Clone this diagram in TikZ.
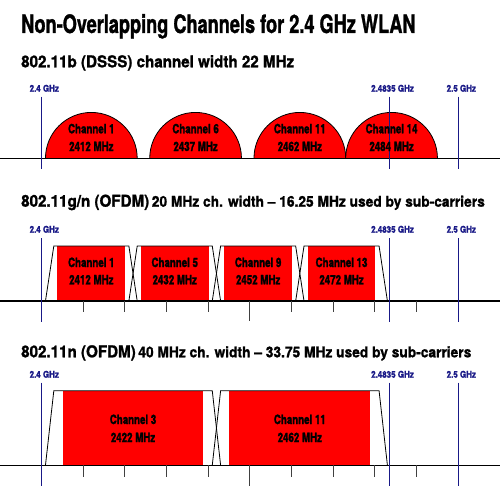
\documentclass[tikz,border=0pt]{standalone}
\usepackage{fontspec}
\newfontfamily\fT[FakeStretch=0.715,FakeBold=1.2]{TeX Gyre Heros}
\newfontfamily\fS[FakeStretch=0.93,FakeBold=1.2]{TeX Gyre Heros}
\newfontfamily\fC[FakeStretch=0.76,FakeBold=1.6]{TeX Gyre Heros}
\newfontfamily\fL[FakeStretch=0.86,FakeBold=1.6]{TeX Gyre Heros}
\definecolor{navyb}{RGB}{25,25,135}
\definecolor{chred}{RGB}{255,0,0}
\newcommand\fq[1]{41.3+4.17*(#1)}
\tikzset{
  ttl/.style={anchor=base west, inner sep=0pt, font=\fT\bfseries\fontsize{25.4}{30}\selectfont},
  sub/.style={anchor=base west, inner sep=0pt, font=\fS\bfseries},
  flab/.style={anchor=base, inner sep=0pt, text=navyb, font=\fL\bfseries\fontsize{9.3}{11}\selectfont},
  clab/.style={anchor=base, inner sep=0pt, font=\fC\bfseries\fontsize{12.8}{15}\selectfont},
  axisline/.style={line width=1.3pt, black},
  bluel/.style={line width=1.1pt, navyb},
  tickl/.style={line width=0.9pt, black!75},
  outl/.style={line width=0.8pt, black},
  redfill/.style={fill=chred, draw=none},
}
\begin{document}
\begin{tikzpicture}[x=1pt,y=-1pt]
\useasboundingbox[fill=white] (0,0) rectangle (500,500);

% titles
\node[ttl] (title) at (21,33) {Non-Overlapping Channels for 2.4 GHz WLAN};
\node[sub, font=\fS\bfseries\fontsize{16.3}{19}\selectfont] (sub1) at (21,67.3) {802.11b (DSSS) channel width 22 MHz};
\node[sub] (sub2) at (21,206.7) {{\fontsize{16.3}{19}\selectfont 802.11g/n (OFDM)} {\fontsize{14.8}{17}\selectfont 20 MHz ch. width – 16.25 MHz used by sub-carriers}};
\node[sub] (sub3) at (21,357.3) {{\fontsize{16.3}{19}\selectfont 802.11n (OFDM)} {\fontsize{14.8}{17}\selectfont 40 MHz ch. width – 33.75 MHz used by sub-carriers}};

% ---------- section 1: DSSS ----------
\foreach \c in {12,37,62,84} {
  \draw[outl, fill=chred] ({\fq{\c-11}},158.3) arc[start angle=180, end angle=360, radius=45.87];
}
\draw[axisline] (0,158.3) -- (500,158.3);
\foreach \f/\t [count=\i] in {0/2.4 GHz,83.5/2.4835 GHz,100/2.5 GHz} {
  \node[flab] (la\i) at ({\fq{\f}+3},91.7) {\t};
  \draw[bluel] ({\fq{\f}},96.7) -- ({\fq{\f}},169);
}
\node[clab] (c1a) at ({\fq{12}},133.3) {Channel 1};
\node[clab] (c1b) at ({\fq{12}},151) {2412 MHz};
\node[clab] (c6a) at ({\fq{37}},133.3) {Channel 6};
\node[clab] (c6b) at ({\fq{37}},151) {2437 MHz};
\node[clab] (c11a) at ({\fq{62}},133.3) {Channel 11};
\node[clab] (c11b) at ({\fq{62}},151) {2462 MHz};
\node[clab] (c14a) at ({\fq{84}},133.3) {Channel 14};
\node[clab] (c14b) at ({\fq{84}},151) {2484 MHz};

% ---------- section 2: OFDM 20 MHz ----------
\foreach \c in {12,32,52,72} {
  \fill[redfill] ({\fq{\c-8.125}},246) rectangle ({\fq{\c+8.125}},301);
  \draw[outl] ({\fq{\c-11}},301) -- ({\fq{\c-9}},246) -- ({\fq{\c+9}},246) -- ({\fq{\c+11}},301);
}
\draw[axisline] (0,301) -- (500,301);
\foreach \f in {10,20,30,40,60,70,80,90} {
  \draw[tickl] ({\fq{\f}},301) -- ({\fq{\f}},312);
}
\draw[tickl] ({\fq{50}},301) -- ({\fq{50}},321);
\foreach \f/\t [count=\i] in {0/2.4 GHz,83.5/2.4835 GHz,100/2.5 GHz} {
  \node[flab] (lb\i) at ({\fq{\f}+3},232.7) {\t};
  \draw[bluel] ({\fq{\f}},238) -- ({\fq{\f}},322);
}
\node[clab] (d1a) at ({\fq{12}},267) {Channel 1};
\node[clab] (d1b) at ({\fq{12}},284.3) {2412 MHz};
\node[clab] (d5a) at ({\fq{32}},267) {Channel 5};
\node[clab] (d5b) at ({\fq{32}},284.3) {2432 MHz};
\node[clab] (d9a) at ({\fq{52}},267) {Channel 9};
\node[clab] (d9b) at ({\fq{52}},284.3) {2452 MHz};
\node[clab] (d13a) at ({\fq{72}},267) {Channel 13};
\node[clab] (d13b) at ({\fq{72}},284.3) {2472 MHz};

% ---------- section 3: OFDM 40 MHz ----------
\foreach \c in {22,62} {
  \fill[redfill] ({\fq{\c-16.875}},390.7) rectangle ({\fq{\c+16.875}},465.3);
  \draw[outl] ({\fq{\c-21}},465.3) -- ({\fq{\c-19}},390.7) -- ({\fq{\c+19}},390.7) -- ({\fq{\c+21}},465.3);
}
\draw[axisline] (0,465.3) -- (500,465.3);
\foreach \f in {10,20,30,40,60,70,80,90} {
  \draw[tickl] ({\fq{\f}},465.3) -- ({\fq{\f}},477);
}
\draw[tickl] ({\fq{50}},465.3) -- ({\fq{50}},486);
\foreach \f/\t [count=\i] in {0/2.4 GHz,83.5/2.4835 GHz,100/2.5 GHz} {
  \node[flab] (lc\i) at ({\fq{\f}+3},377.7) {\t};
  \draw[bluel] ({\fq{\f}},382.7) -- ({\fq{\f}},486);
}
\node[clab] (e3a) at ({\fq{22}},424) {Channel 3};
\node[clab] (e3b) at ({\fq{22}},442) {2422 MHz};
\node[clab] (e11a) at ({\fq{62}},424) {Channel 11};
\node[clab] (e11b) at ({\fq{62}},442) {2462 MHz};
\end{tikzpicture}
\end{document}
